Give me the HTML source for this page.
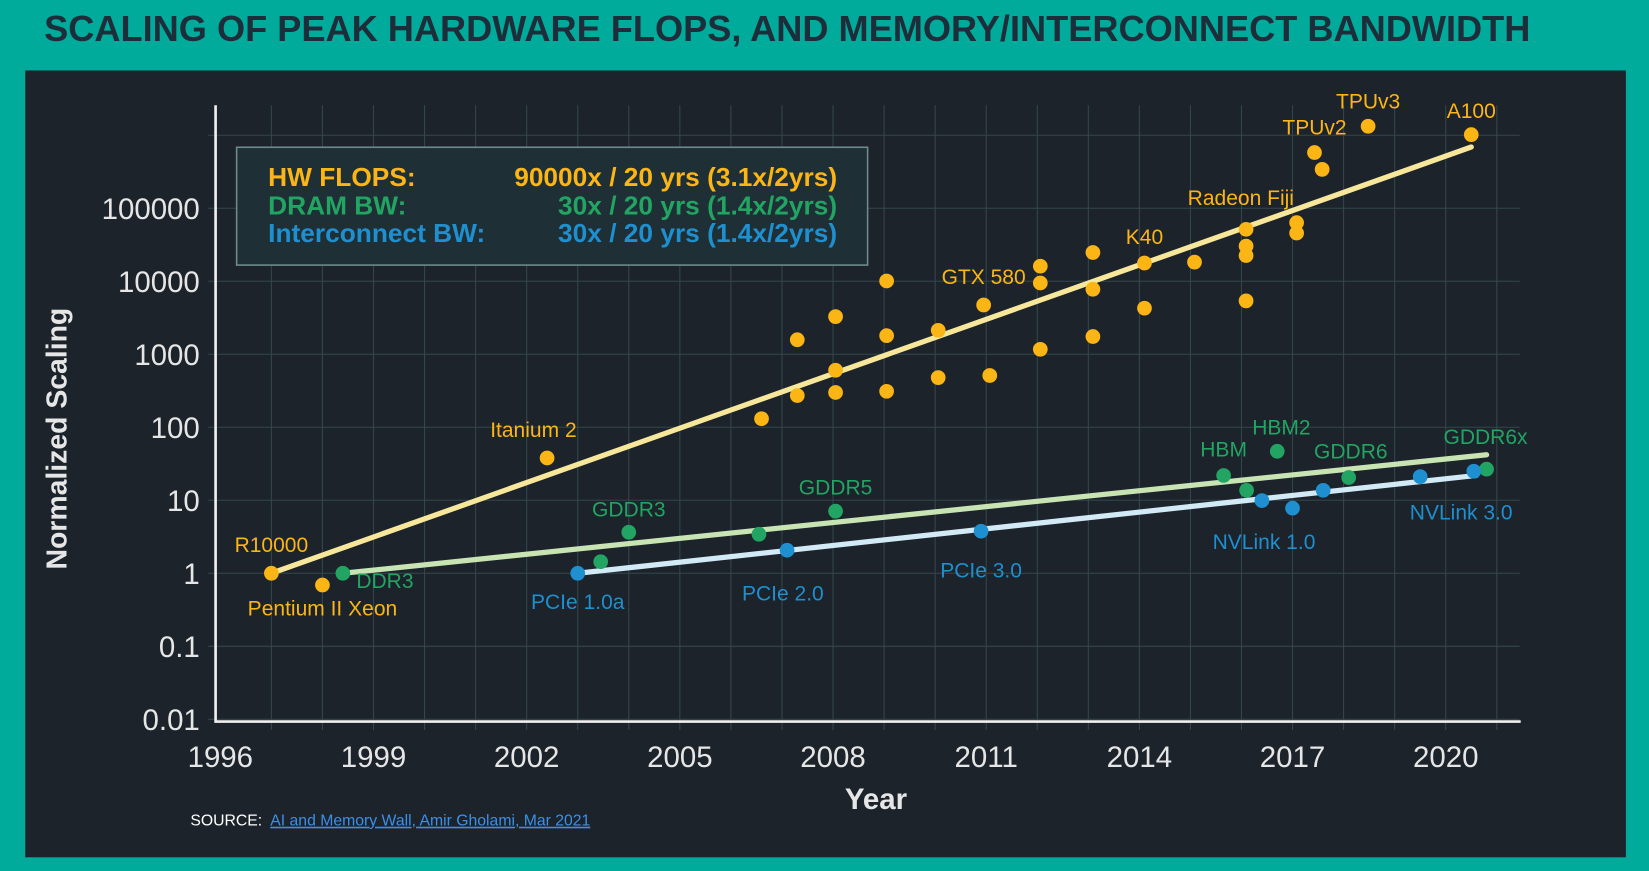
<!DOCTYPE html>
<html><head><meta charset="utf-8"><style>
body{margin:0;width:1649px;height:871px;background:#00ab9c;overflow:hidden;font-family:"Liberation Sans",sans-serif}
#wrap{position:absolute;left:0;top:0;width:1568px;height:828px;transform:scale(1.05166,1.0519);transform-origin:0 0}
#title{position:absolute;left:42px;top:9px;font-size:34.4px;font-weight:bold;color:#1d2d3a;letter-spacing:0px;white-space:nowrap}
#panel{position:absolute;left:24px;top:67px;width:1522px;height:748px;background:#1c232b}
svg{position:absolute;left:0;top:0}
</style></head><body>
<div id="wrap">
<div id="title">SCALING OF PEAK HARDWARE FLOPS, AND MEMORY/INTERCONNECT BANDWIDTH</div>
<div id="panel"></div>
<svg id="chart" width="1568" height="828"></svg>
</div>
<script>
const flopsYears=[1997,1998,2002.4,2006.6,2007.3,2007.3,2008.05,2008.05,2008.05,2009.05,2009.05,2009.05,2010.06,2010.06,2010.95,2011.07,2012.06,2012.06,2012.06,2013.09,2013.09,2013.09,2014.1,2014.1,2015.08,2016.09,2016.09,2016.09,2016.09,2017.08,2017.08,2017.43,2017.58,2018.48,2020.5];
const flopsValues=[1,0.69,38,131,1580,272,3280,604,300,10100,1800,311,2130,479,4730,512,16100,9480,1170,24800,7770,1750,17800,4280,18300,51500,30300,22500,5390,63500,45800,580000,341000,1330000,1020000];
const dramYears=[1998.4,2003.45,2004.0,2006.55,2008.05,2015.65,2016.1,2016.7,2018.1,2020.8];
const dramValues=[1,1.44,3.65,3.42,7.1,21.9,13.7,46.9,20.5,26.7];
const icYears=[2003.0,2007.1,2010.9,2016.4,2017.0,2017.6,2019.5,2020.55];
const icValues=[1,2.07,3.77,9.9,7.8,13.7,21.1,25.0];
const trendYears={flops:[1997,2020.5],dram:[1998.4,2020.8],ic:[2003,2020.6]};
const trendValues={flops:[1,690000],dram:[1,42],ic:[1,21.9]};
const xTicks=[1996,1999,2002,2005,2008,2011,2014,2017,2020];
const yTicks=[0.01,0.1,1,10,100,1000,10000,100000];
const yTickLabels=["0.01","0.1","1","10","100","1000","10000","100000"];
const flopsLabels=[["R10000",1997,1,0,-20],["Pentium II Xeon",1998,0.69,0,29],["Itanium 2",2002.4,38,-13,-20],["GTX 580",2010.95,4730,0,-20],["K40",2014.1,17800,0,-18],["Radeon Fiji",2016.09,51500,-5,-23],["TPUv2",2017.43,580000,0,-17],["TPUv3",2018.48,1330000,0,-17],["A100",2020.5,1020000,0,-16]];
const dramLabels=[["DDR3",1998.4,1,40,14],["GDDR3",2004.0,3.65,0,-15],["GDDR5",2008.05,7.1,0,-16],["HBM",2015.65,21.9,0,-18],["HBM2",2016.7,46.9,4,-16],["GDDR6",2018.1,20.5,2,-18],["GDDR6x",2020.8,26.7,-1,-24]];
const icLabels=[["PCIe 1.0a",2003.0,1,0,34],["PCIe 2.0",2007.1,2.07,-4,48],["PCIe 3.0",2010.9,3.77,0,44],["NVLink 1.0",2016.4,9.9,2,46],["NVLink 3.0",2020.55,25.0,-12,46]];

const X=y=>209.5+(y-1996)*48.55;
const Y=v=>545-Math.log10(v)*69.4;
const svg=document.getElementById('chart');const NS='http://www.w3.org/2000/svg';
function mk(t,a,p){const e=document.createElementNS(NS,t);for(const k in a)e.setAttribute(k,a[k]);(p||svg).appendChild(e);return e;}
const COL={flops:'#fbb515',dram:'#22a462',ic:'#1e8fcf'};
for(let yr=1997;yr<=2021;yr++){const g=mk('line',{x1:X(yr),x2:X(yr),y1:100,y2:694,stroke:'#34464d','stroke-width':1});

}
for(let p=-2;p<=6;p++){const g=mk('line',{x1:198,x2:1445,y1:Y(Math.pow(10,p)),y2:Y(Math.pow(10,p)),stroke:'#34464d','stroke-width':1});

}
const ya=mk('line',{x1:205,x2:205,y1:100,y2:687,stroke:'#f0f0f0','stroke-width':2.5});


const xa=mk('line',{x1:204,x2:1446,y1:686,y2:686,stroke:'#f0f0f0','stroke-width':2.5});


xTicks.forEach(t=>{const e=mk('text',{x:X(t),y:729,'text-anchor':'middle','font-size':28,fill:'#e6e6e6'});e.textContent=t;

});
yTicks.forEach((t,i)=>{const e=mk('text',{x:190,y:Y(t)+10,'text-anchor':'end','font-size':28,fill:'#e6e6e6'});e.textContent=yTickLabels[i];

});
const yt=mk('text',{x:0,y:0,transform:'translate(63,417) rotate(-90)','text-anchor':'middle','font-size':27,'font-weight':'bold',fill:'#e6e6e6'});yt.textContent='Normalized Scaling';


const xt=mk('text',{x:833,y:769,'text-anchor':'middle','font-size':28,'font-weight':'bold',fill:'#e6e6e6'});xt.textContent='Year';


const lb=mk('rect',{x:225,y:140,width:600,height:112,fill:'#1f2f36',stroke:'#6e8a8e','stroke-width':1.5});


[['HW FLOPS:','90000x / 20 yrs (3.1x/2yrs)','flops',177],['DRAM BW:','30x / 20 yrs (1.4x/2yrs)','dram',204],['Interconnect BW:','30x / 20 yrs (1.4x/2yrs)','ic',230]].forEach(r=>{
const a=mk('text',{x:255,y:r[3],'font-size':25,'font-weight':'bold',fill:COL[r[2]]});a.textContent=r[0];


const b=mk('text',{x:796,y:r[3],'text-anchor':'end','font-size':25,'font-weight':'bold',fill:COL[r[2]]});b.textContent=r[1];

});
const TC={flops:'#f7e79a',dram:'#c7e4b2',ic:'#d2e9f6'};
['flops','dram','ic'].forEach(k=>{const l=mk('line',{x1:X(trendYears[k][0]),y1:Y(trendValues[k][0]),x2:X(trendYears[k][1]),y2:Y(trendValues[k][1]),stroke:TC[k],'stroke-width':5,'stroke-linecap':'round'});

});
function pts(ys,vs,k){ys.forEach((y,i)=>{const c=mk('circle',{cx:X(y),cy:Y(vs[i]),r:7,fill:COL[k]});

});}
pts(flopsYears,flopsValues,'flops');pts(dramYears,dramValues,'dram');pts(icYears,icValues,'ic');
function labs(arr,k){arr.forEach(a=>{const e=mk('text',{x:X(a[1])+a[3],y:Y(a[2])+a[4],'text-anchor':'middle','font-size':20,fill:COL[k]});e.textContent=a[0];

});}
labs(flopsLabels,'flops');labs(dramLabels,'dram');labs(icLabels,'ic');
const s=mk('text',{x:181,y:785,'font-size':15,fill:'#ffffff'});s.textContent='SOURCE:';


const ln=mk('text',{x:257,y:785,'font-size':15,fill:'#3d8fe8','text-decoration':'underline'});ln.textContent='AI and Memory Wall, Amir Gholami, Mar 2021';


</script>
</body></html>
